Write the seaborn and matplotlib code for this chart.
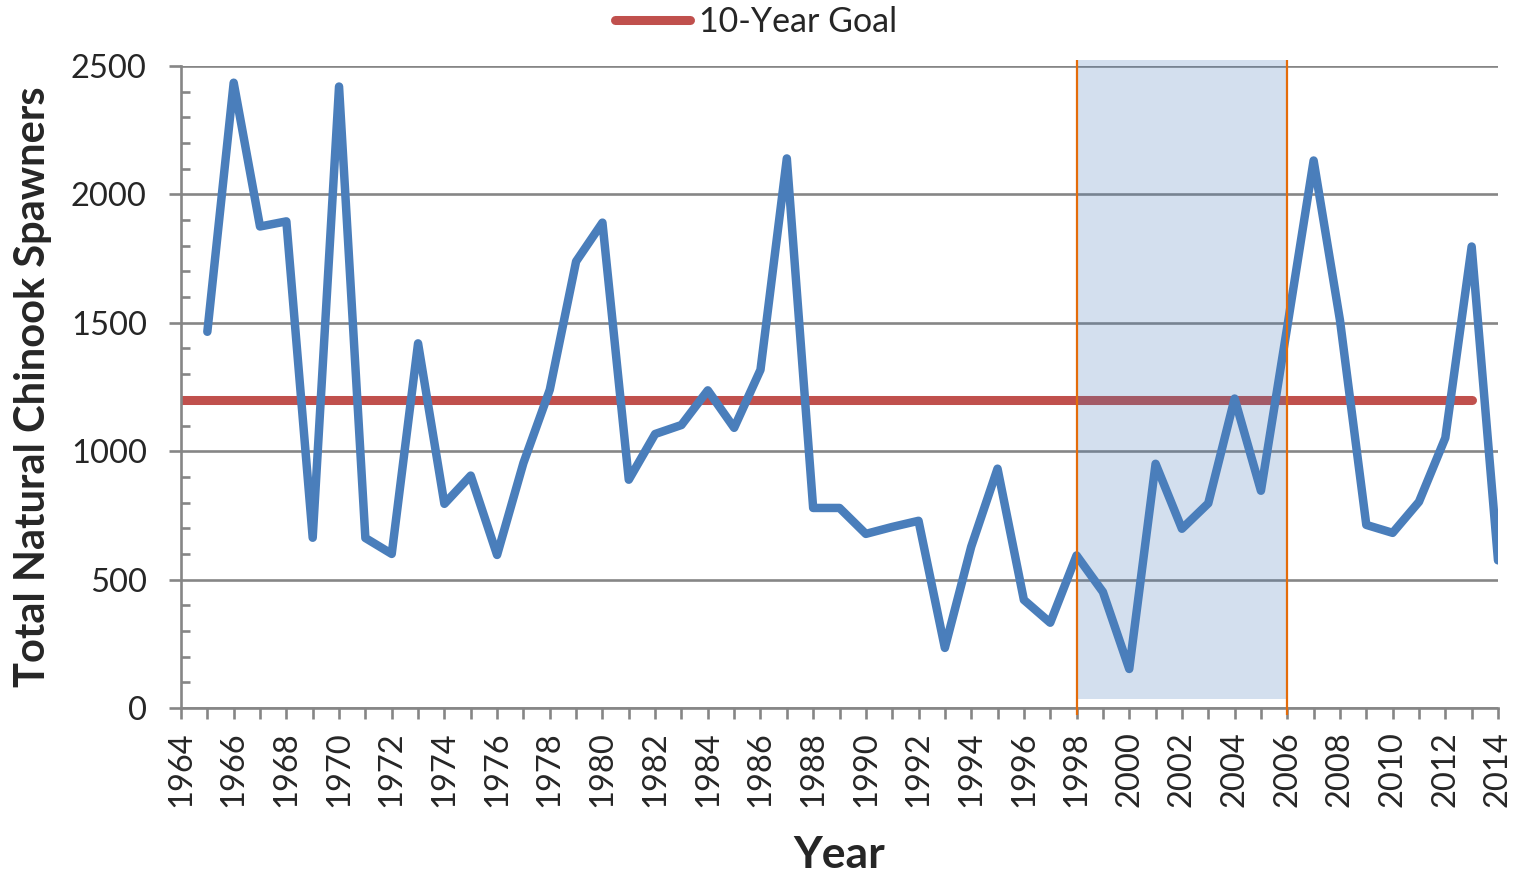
import matplotlib
matplotlib.use("Agg")
import matplotlib.pyplot as plt
from matplotlib.ticker import MultipleLocator, FormatStrFormatter
import seaborn as sns
import pandas as pd

# ---- data ----
years = list(range(1965, 2015))
spawners = [1465, 2435, 1875, 1895, 663, 2420, 662, 600, 1420, 795,
            905, 596, 954, 1239, 1739, 1890, 889, 1067, 1102, 1237,
            1091, 1317, 2140, 779, 779, 678, 705, 729, 234, 628,
            932, 421, 332, 594, 452, 152, 951, 698, 797, 1205,
            846, 1485, 2132, 1510, 713, 682, 803, 1052, 1797, 575]
goal_years = [1964, 2013]
goal_values = [1200, 1200]
goal_label = "10-Year Goal"
highlight_years = [1998, 2006]
y_label = "Total Natural Chinook Spawners"
x_label = "Year"

df = pd.DataFrame({"Year": years, "Spawners": spawners})
goal_df = pd.DataFrame({"Year": goal_years, "Goal": goal_values})

# ---- style ----
sns.set_style("white")
plt.rcParams["font.family"] = ["Lato", "DejaVu Sans"]

GRAY = "#868686"
BLUE = "#4A7EBB"
RED = "#C0504D"
ORANGE = "#E46C0A"
SHADE = (72 / 255, 122 / 255, 184 / 255)

fig = plt.figure(figsize=(15.24, 8.76), dpi=100)
ax = fig.add_axes([181 / 1524, 1 - 708 / 876, 1317 / 1524, 642 / 876])

# goal line
sns.lineplot(data=goal_df, x="Year", y="Goal", ax=ax, color=RED, linewidth=6.5,
             label=goal_label, zorder=2, solid_capstyle="round", legend=False)
goal_line = ax.lines[-1]

# highlighted period
ax.axvspan(highlight_years[0], highlight_years[1], ymin=35 / 2500, ymax=2524 / 2500,
           color=SHADE, alpha=0.24, lw=0, zorder=3, clip_on=False)

# spawners
sns.lineplot(data=df, x="Year", y="Spawners", ax=ax, color=BLUE, linewidth=6.1,
             zorder=4, legend=False)
ax.lines[-1].set_solid_joinstyle("round")
ax.lines[-1].set_solid_capstyle("round")

# period boundaries
ax.vlines(highlight_years, -27, 2524, colors=ORANGE, linewidth=1.6, zorder=5,
          clip_on=False)

# axes
ax.set_xlim(1964, 2014)
ax.set_ylim(0, 2500)
ax.xaxis.set_major_locator(MultipleLocator(2))
ax.xaxis.set_minor_locator(MultipleLocator(1))
ax.xaxis.set_major_formatter(FormatStrFormatter("%d"))
ax.yaxis.set_major_locator(MultipleLocator(500))
ax.yaxis.set_minor_locator(MultipleLocator(100))

ax.set_axisbelow(True)
ax.grid(axis="y", which="major", color=GRAY, linewidth=1.9)
ax.grid(axis="x", visible=False)

for s in ["top", "right"]:
    ax.spines[s].set_visible(False)
for s in ["left", "bottom"]:
    ax.spines[s].set_color(GRAY)
    ax.spines[s].set_linewidth(1.9)

ax.tick_params(axis="y", which="major", direction="out", length=8.6, width=1.9,
               color=GRAY, pad=16, labelsize=23.5, left=True)
ax.tick_params(axis="y", which="minor", direction="in", length=6.5, width=1.9,
               color=GRAY, left=True)
ax.tick_params(axis="x", which="both", direction="out", length=8, width=1.9,
               color=GRAY, bottom=True)
ax.tick_params(axis="x", which="major", labelsize=23.5, labelrotation=90, pad=9)

ax.set_xlabel(x_label, fontsize=32, fontweight="bold", va="center")
ax.xaxis.set_label_coords(0.5, -0.229)
ax.set_ylabel(y_label, fontsize=30, fontweight="bold", va="center")
ax.yaxis.set_label_coords((33 - 181) / 1317, 0.5)

fig.legend(handles=[goal_line], labels=[goal_label], loc="center",
           bbox_to_anchor=(756 / 1524, 1 - 22 / 876), frameon=False,
           fontsize=24.5, handlelength=2.2, handletextpad=0.25)

fig.savefig("out.png", dpi=100)
